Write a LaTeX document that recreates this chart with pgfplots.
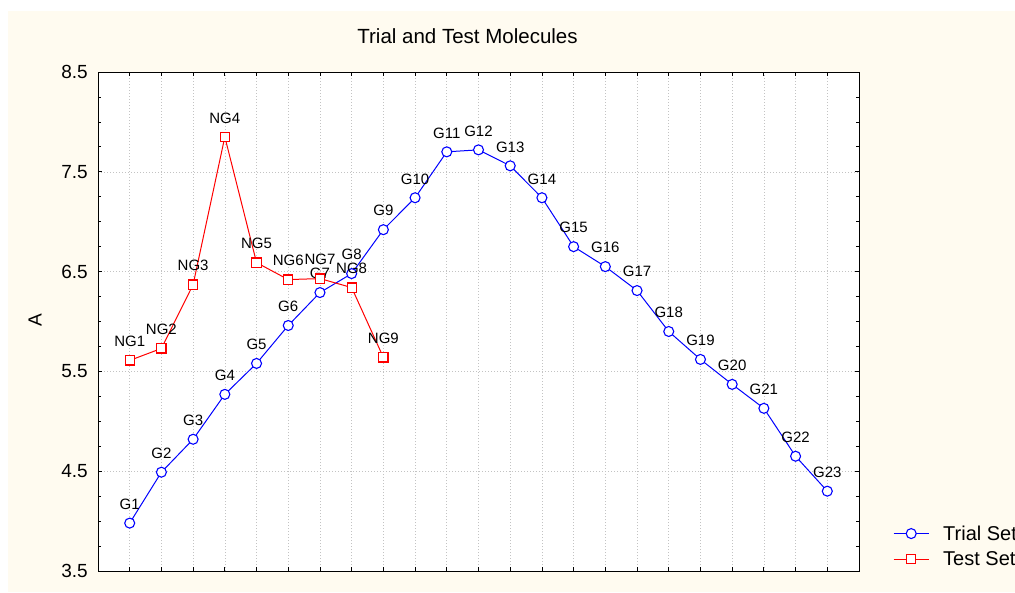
\documentclass[border=0pt]{standalone}
\usepackage{fontspec}
\setmainfont{Liberation Sans}
\usepackage{pgfplots}
\pgfplotsset{compat=1.18}
\definecolor{cream}{RGB}{255,251,240}
\definecolor{gridgray}{RGB}{195,195,195}
\definecolor{trialblue}{RGB}{0,0,255}
\definecolor{testred}{RGB}{255,0,0}
\begin{document}
\begin{tikzpicture}[x=1pt,y=1pt]
\path[use as bounding box] (0,0) rectangle (1015,592);
\clip (0,0) rectangle (1015,592);
\fill[cream] (8,0) rectangle (1015,581);
\node[font=\fontsize{20.5}{24}\selectfont] at (467.5,556) {Trial and Test Molecules};
\node[rotate=90,font=\fontsize{19}{23}\selectfont] at (35,272) {A};
\begin{axis}[
  at={(98pt,21pt)}, anchor=south west, scale only axis,
  width=761pt, height=499pt,
  xmin=0, xmax=24, ymin=3.5, ymax=8.5,
  axis background/.style={fill=white},
  axis line style={black, line width=1pt},
  xtick={1,2,...,23}, xticklabels={},
  ytick={3.5,4.5,5.5,6.5,7.5,8.5}, minor y tick num=3,
  yticklabel style={font=\fontsize{19}{23}\selectfont, inner sep=0pt, xshift=-10pt},
  /pgf/number format/assume math mode=true,
  /pgf/number format/.cd, fixed, fixed zerofill, precision=1, /pgfplots/.cd,
  tick align=inside, major tick length=4pt, minor tick length=3pt,
  tick style={black, line width=0.8pt},
  xmajorgrids, ymajorgrids,
  major grid style={gridgray, dash pattern=on 1.2pt off 1.8pt, line width=0.6pt},
  point meta=explicit symbolic,
  nodes near coords,
  nodes near coords style={font=\fontsize{15}{18}\selectfont, anchor=south, inner sep=0pt, yshift=13pt, text=black},
  legend image code/.code={\draw[mark repeat=2,mark phase=2,#1] plot coordinates {(0pt,0pt) (17.5pt,0pt) (35pt,0pt)};},
  legend style={at={(axis description cs:1.0447,0.0495)}, anchor=west, draw=none, fill=none,
    font=\fontsize{20}{24}\selectfont, inner sep=0pt, row sep=10pt, column sep=14pt,
    nodes={inner sep=0pt, anchor=west}},
  legend cell align=left,
]
\addplot[trialblue, line width=1pt, mark=*, mark size=5pt, mark options={fill=white, draw=trialblue, line width=1.1pt}]
 table[meta=label] {
x y label
1 3.98 G1
2 4.49 G2
3 4.82 G3
4 5.27 G4
5 5.58 G5
6 5.96 G6
7 6.29 G7
8 6.48 G8
9 6.92 G9
10 7.24 G10
11 7.70 G11
12 7.72 G12
13 7.56 G13
14 7.24 G14
15 6.75 G15
16 6.55 G16
17 6.31 G17
18 5.90 G18
19 5.62 G19
20 5.37 G20
21 5.13 G21
22 4.65 G22
23 4.30 G23
};
\addlegendentry{Trial Set}
\addplot[testred, line width=1pt, mark=square*, mark size=4.6pt, mark options={fill=white, draw=testred, line width=1.1pt}]
 table[meta=label] {
x y label
1 5.61 NG1
2 5.73 NG2
3 6.37 NG3
4 7.85 NG4
5 6.59 NG5
6 6.42 NG6
7 6.43 NG7
8 6.34 NG8
9 5.64 NG9
};
\addlegendentry{Test Set}
\end{axis}
\end{tikzpicture}
\end{document}
